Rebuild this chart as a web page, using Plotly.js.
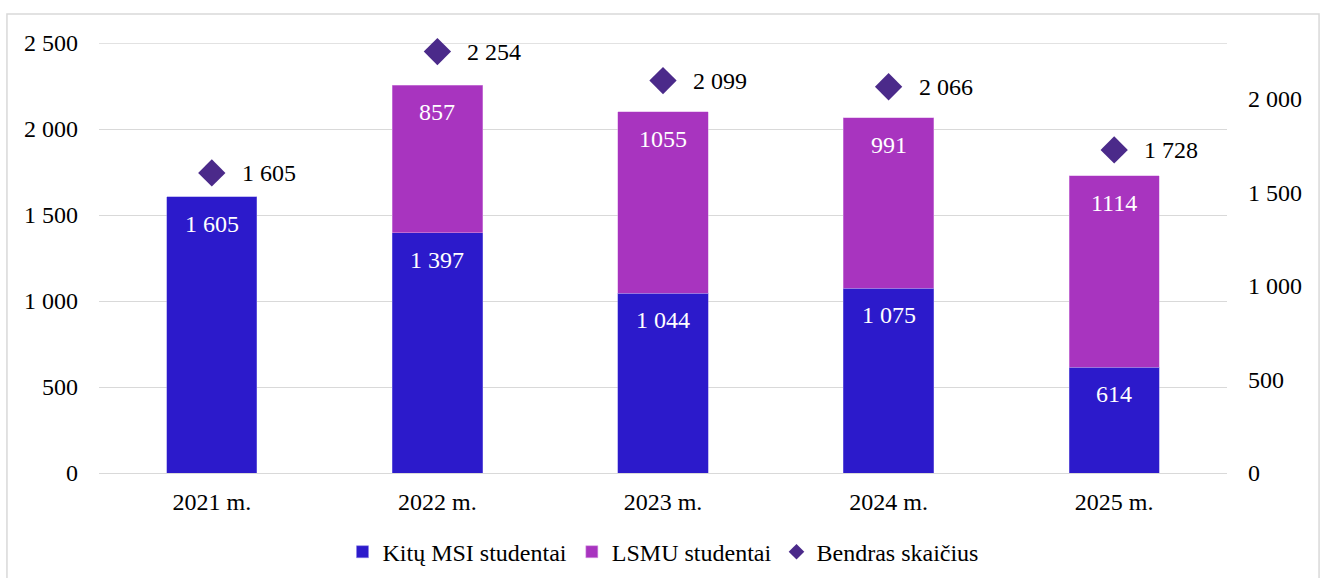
<!DOCTYPE html>
<html>
<head>
<meta charset="utf-8">
<script src="https://cdn.plot.ly/plotly-3.0.1.min.js"></script>
</head>
<body style="margin:0">
<div id="chart"></div>
<script>
const categories = ["2021 m.", "2022 m.", "2023 m.", "2024 m.", "2025 m."];
const otherStudents = [1605, 1397, 1044, 1075, 614];
const lsmuStudents = [null, 857, 1055, 991, 1114];
const totalCount = [1605, 2254, 2099, 2066, 1728];
const seriesNames = ["Kitų MSI studentai", "LSMU studentai", "Bendras skaičius"];

const FONT = 'Liberation Serif';
const FS = 24;
const colBlue = '#2C1ACB';
const colPurple = '#A834BF';
const colDiamond = '#4B2A8A';

const traces = [
  {
    type: 'bar', name: seriesNames[0], x: categories, y: otherStudents,
    marker: {color: colBlue, line: {color: '#8a80e6', width: 0.5}}
  },
  {
    type: 'bar', name: seriesNames[1], x: categories, y: lsmuStudents,
    marker: {color: colPurple, line: {color: '#d9a0e6', width: 0.5}}
  },
  {
    type: 'scatter', mode: 'markers', name: seriesNames[2], x: categories, y: totalCount,
    yaxis: 'y2', showlegend: false,
    marker: {symbol: 'diamond', size: 21, color: colDiamond},
    cliponaxis: false
  },
  {
    type: 'scatter', mode: 'markers', name: seriesNames[2], x: [null], y: [null],
    yaxis: 'y2', marker: {symbol: 'diamond', size: 12, color: colDiamond}
  }
];

const fmtSpace = v => String(v).replace(/\B(?=(\d{3})+(?!\d))/g, ' ');
const annotations = [];
categories.forEach((c, i) => {
  if (otherStudents[i] != null) {
    annotations.push({x: c, y: otherStudents[i], xref: 'x', yref: 'y', yanchor: 'middle', yshift: -27,
      text: fmtSpace(otherStudents[i]), showarrow: false,
      font: {family: FONT, size: FS, color: '#ffffff'}});
  }
  if (lsmuStudents[i] != null) {
    annotations.push({x: c, y: otherStudents[i] + lsmuStudents[i], xref: 'x', yref: 'y', yanchor: 'middle', yshift: -27,
      text: String(lsmuStudents[i]), showarrow: false,
      font: {family: FONT, size: FS, color: '#ffffff'}});
  }
  annotations.push({x: c, y: totalCount[i], xref: 'x', yref: 'y2', xanchor: 'left', yanchor: 'middle', xshift: 28,
    text: fmtSpace(totalCount[i]), showarrow: false,
    font: {family: FONT, size: FS, color: '#000000'}});
});

const layout = {
  width: 1325, height: 578,
  margin: {l: 99, r: 98, t: 43, b: 105, autoexpand: false},
  separators: ', ',
  barmode: 'stack',
  bargap: 0.6,
  showlegend: true,
  legend: {orientation: 'h', x: 0.5, xanchor: 'center', y: -0.184, yanchor: 'middle',
    font: {family: FONT, size: FS, color: '#000000'}, traceorder: 'normal', itemwidth: 30},
  xaxis: {
    type: 'category', showgrid: false, showline: false, zeroline: false,
    ticks: '', ticklabelstandoff: 12, tickfont: {family: FONT, size: FS, color: '#000000'}
  },
  yaxis: {
    range: [0, 2500], dtick: 500, tickformat: ',d',
    showgrid: true, gridcolor: '#d9d9d9', gridwidth: 1.3,
    zeroline: true, zerolinecolor: '#d9d9d9', zerolinewidth: 1.3,
    showline: false, ticks: '', ticklabelstandoff: 20, tickfont: {family: FONT, size: FS, color: '#000000'}
  },
  yaxis2: {
    overlaying: 'y', side: 'right', range: [0, 2300], dtick: 500, tickformat: ',d',
    showgrid: false, zeroline: false, showline: false, ticks: '', ticklabelstandoff: 20,
    tickfont: {family: FONT, size: FS, color: '#000000'}
  },
  annotations: annotations,
  shapes: [
    {type: 'rect', xref: 'paper', yref: 'paper', x0: -0.0816, x1: 1.0816, y0: -0.26, y1: 1.0674,
      line: {color: '#d9d9d9', width: 1.5}, fillcolor: 'rgba(0,0,0,0)', layer: 'below'},
    {type: 'line', xref: 'paper', yref: 'y', x0: 0, x1: 1, y0: 2500, y1: 2500,
      line: {color: '#d9d9d9', width: 1.3}, layer: 'below'}
  ]
};

Plotly.newPlot('chart', traces, layout, {displayModeBar: false});
</script>
</body>
</html>
